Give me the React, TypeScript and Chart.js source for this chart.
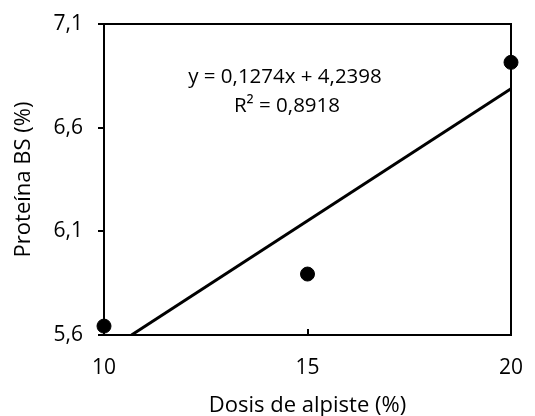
import React, { useEffect, useRef } from "react";
import { Chart, registerables } from "chart.js";

Chart.register(...registerables);

const doses = [10, 15, 20];
const protein = [5.643, 5.894, 6.915];
const slope = 0.1274;
const intercept = 4.2398;
const equationText = "y = 0,1274x + 4,2398";
const r2Text = "R² = 0,8918";
const yTicks = [5.6, 6.1, 6.6, 7.1];
const xTicks = [10, 15, 20];
const xTitle = "Dosis de alpiste (%)";
const yTitle = "Proteína BS (%)";

const FONT = "'Open Sans', sans-serif";

export default function App() {
  const ref = useRef<HTMLCanvasElement | null>(null);

  useEffect(() => {
    if (!ref.current) return;
    const yMin = yTicks[0];
    const yMax = yTicks[yTicks.length - 1];
    const xMin = xTicks[0];
    const xMax = xTicks[xTicks.length - 1];
    const xStart = Math.max(xMin, (yMin - intercept) / slope);
    const trend = [
      { x: xStart, y: slope * xStart + intercept },
      { x: xMax, y: slope * xMax + intercept },
    ];

    const frame = {
      id: "frame",
      afterDatasetsDraw(chart: any) {
        const { ctx, chartArea } = chart;
        const { left, top, right, bottom } = chartArea;
        ctx.save();
        ctx.strokeStyle = "#000";
        ctx.lineWidth = 2;
        ctx.strokeRect(left, top, right - left, bottom - top);
        const xs = chart.scales.x;
        ctx.beginPath();
        for (const v of xTicks) {
          const px = Math.round(xs.getPixelForValue(v));
          ctx.moveTo(px, bottom);
          ctx.lineTo(px, bottom - 6);
        }
        ctx.stroke();
        ctx.fillStyle = "#000";
        ctx.font = `20.5px ${FONT}`;
        ctx.textAlign = "center";
        ctx.textBaseline = "middle";
        ctx.fillText(equationText, left + 181, top + 53);
        ctx.fillText(r2Text, left + 183, top + 82);
        ctx.restore();
      },
    };

    const chart = new Chart(ref.current, {
      type: "scatter",
      data: {
        datasets: [
          {
            type: "line",
            data: trend,
            borderColor: "#000",
            borderWidth: 3,
            pointRadius: 0,
            fill: false,
            order: 2,
          } as any,
          {
            data: doses.map((d, i) => ({ x: d, y: protein[i] })),
            backgroundColor: "#000",
            borderColor: "#000",
            pointRadius: 7,
            pointHoverRadius: 7,
            clip: false,
            order: 1,
          } as any,
        ],
      },
      plugins: [frame],
      options: {
        animation: false,
        responsive: false,
        maintainAspectRatio: false,
        layout: { padding: { left: 0, right: 24, top: 24, bottom: 0 } },
        plugins: { legend: { display: false }, tooltip: { enabled: false } },
        scales: {
          x: {
            type: "linear",
            min: xMin,
            max: xMax,
            afterBuildTicks: (s: any) => {
              s.ticks = xTicks.map((v) => ({ value: v }));
            },
            afterFit: (s: any) => {
              s.height = 81;
              s.paddingLeft = 0;
              s.paddingRight = 0;
            },
            grid: { display: false, drawTicks: false },
            border: { display: false },
            ticks: {
              color: "#000",
              font: { family: FONT, size: 21 },
              padding: 20,
              maxRotation: 0,
              autoSkip: false,
              callback: (v: any) => String(v),
            },
            title: {
              display: true,
              text: xTitle,
              color: "#000",
              font: { family: FONT, size: 22 },
              padding: { top: 12, bottom: -3 },
            },
          },
          y: {
            type: "linear",
            min: yMin,
            max: yMax,
            afterBuildTicks: (s: any) => {
              s.ticks = yTicks.map((v) => ({ value: v }));
            },
            afterFit: (s: any) => {
              s.width = 104;
              s.paddingTop = 0;
              s.paddingBottom = 0;
            },
            grid: {
              display: true,
              drawOnChartArea: false,
              drawTicks: true,
              tickLength: 6,
              color: "#000",
              lineWidth: 2,
            },
            border: { display: false },
            ticks: {
              color: "#000",
              font: { family: FONT, size: 21 },
              padding: 15,
              autoSkip: false,
              callback: (v: any) => Number(v).toFixed(1).replace(".", ","),
            },
            title: {
              display: true,
              text: yTitle,
              color: "#000",
              font: { family: FONT, size: 22 },
              padding: { top: 11, bottom: 0 },
            },
          },
        },
      },
    });
    return () => chart.destroy();
  }, []);

  return (
    <div style={{ position: "fixed", left: 0, top: 0, width: 535, height: 416, background: "#fff" }}>
      <canvas ref={ref} width={535} height={416} style={{ display: "block" }} />
    </div>
  );
}
